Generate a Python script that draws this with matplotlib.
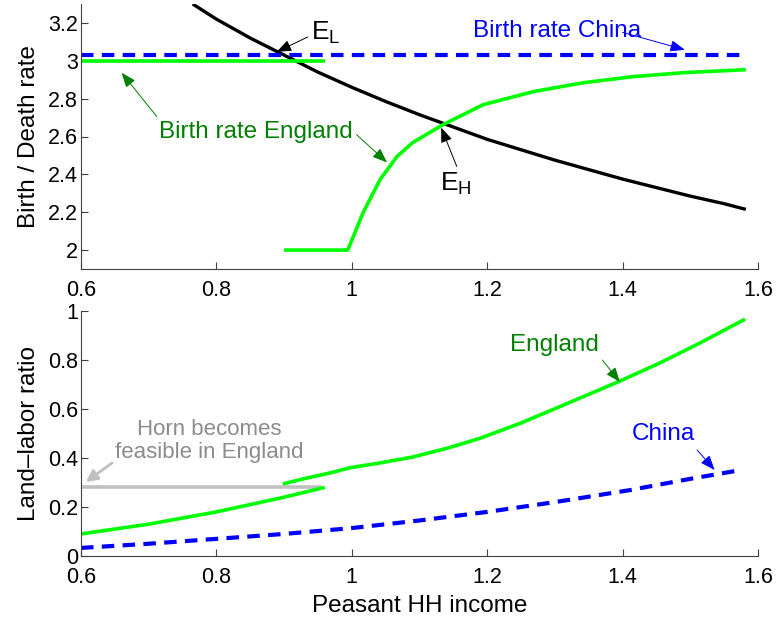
import matplotlib
matplotlib.use("Agg")
import matplotlib.pyplot as plt

plt.rcParams["font.family"] = ["Liberation Sans", "DejaVu Sans"]

# top panel: birth / death rates
death_x = [0.765, 0.8, 0.85, 0.9, 0.95, 1.0, 1.05, 1.1, 1.15, 1.2, 1.25, 1.3,
           1.35, 1.4, 1.45, 1.5, 1.55, 1.582]
death_y = [3.30, 3.22, 3.12, 3.03, 2.94, 2.86, 2.785, 2.715, 2.65, 2.585, 2.53,
           2.475, 2.425, 2.375, 2.33, 2.285, 2.245, 2.215]

china_birth_x = [0.6, 1.575]
china_birth_y = [3.03, 3.03]

eng_birth_low_x = [0.6, 0.96]
eng_birth_low_y = [3.0, 3.0]

eng_birth_x = [0.9, 0.994, 1.017, 1.042, 1.067, 1.09, 1.135, 1.194, 1.268,
               1.342, 1.415, 1.489, 1.582]
eng_birth_y = [2.0, 2.0, 2.2, 2.374, 2.495, 2.568, 2.663, 2.768, 2.837,
               2.884, 2.916, 2.937, 2.953]

# bottom panel: land-labor ratio
eng_ll_low_x = [0.6, 0.7, 0.8, 0.9, 0.96]
eng_ll_low_y = [0.09, 0.13, 0.18, 0.24, 0.28]

eng_ll_x = [0.898, 0.93, 0.968, 0.997, 1.042, 1.09, 1.141, 1.189, 1.25, 1.3075,
            1.396, 1.455, 1.514, 1.581]
eng_ll_y = [0.294, 0.316, 0.339, 0.360, 0.38, 0.404, 0.44, 0.48, 0.543, 0.61,
            0.714, 0.788, 0.869, 0.967]

china_ll_x = [0.6, 0.7, 0.8, 0.9, 1.0, 1.1, 1.2, 1.3, 1.411, 1.5, 1.575]
china_ll_y = [0.033, 0.05, 0.07, 0.09, 0.114, 0.145, 0.18, 0.22, 0.269, 0.315, 0.351]

horn_x = [0.6, 0.955]
horn_y = [0.28, 0.28]

xticks = [0.6, 0.8, 1.0, 1.2, 1.4, 1.6]
xticklabels = ["0.6", "0.8", "1", "1.2", "1.4", "1.6"]
top_yticks = [2, 2.2, 2.4, 2.6, 2.8, 3, 3.2]
top_yticklabels = ["2", "2.2", "2.4", "2.6", "2.8", "3", "3.2"]
bot_yticks = [0, 0.2, 0.4, 0.6, 0.8, 1]
bot_yticklabels = ["0", "0.2", "0.4", "0.6", "0.8", "1"]

LIME = "#00ff00"
DKGREEN = "#008000"
BLUE = "#0000ff"
W, H = 777, 619
TXT = 17.5

fig = plt.figure(figsize=(W / 100, H / 100), dpi=100)
ax1 = fig.add_axes([81 / W, 1 - 269 / H, 677 / W, 265 / H])
ax2 = fig.add_axes([81 / W, 1 - 556 / H, 677 / W, 245 / H])


def style(ax):
    for s in ["top", "right"]:
        ax.spines[s].set_visible(False)
    for s in ["left", "bottom"]:
        ax.spines[s].set_color("#404040")
        ax.spines[s].set_linewidth(0.8)
    ax.tick_params(direction="in", length=5, width=0.8, color="#404040",
                   labelsize=15.5)
    ax.tick_params(axis="y", pad=2)
    ax.tick_params(axis="x", pad=8)
    ax.set_xlim(0.6, 1.6)
    ax.set_xticks(xticks)
    ax.set_xticklabels(xticklabels)


style(ax1)
ax1.set_ylim(1.9, 3.3)
ax1.set_yticks(top_yticks)
ax1.set_yticklabels(top_yticklabels)
ax1.set_ylabel("Birth / Death rate", fontsize=TXT, labelpad=6)

ax1.plot(death_x, death_y, color="black", lw=2.4, solid_capstyle="butt")
ax1.plot(china_birth_x, china_birth_y, color=BLUE, lw=3, dashes=(3, 2),
         dash_capstyle="butt")
ax1.plot(eng_birth_low_x, eng_birth_low_y, color=LIME, lw=2.6, solid_capstyle="butt")
ax1.plot(eng_birth_x, eng_birth_y, color=LIME, lw=2.6, solid_capstyle="butt")

thin = dict(arrowstyle="-|>,head_length=0.9,head_width=0.35", lw=0.7,
            shrinkA=0, shrinkB=0)

ax1.text(1.303, 3.158, "Birth rate China", color=BLUE, fontsize=TXT,
         ha="center", va="center")
ax1.annotate("", xy=(1.492, 3.058), xytext=(1.40, 3.15),
             arrowprops=dict(thin, color=BLUE))

ax1.text(0.858, 2.626, "Birth rate England", color=DKGREEN, fontsize=TXT,
         ha="center", va="center")
ax1.annotate("", xy=(0.66, 2.937), xytext=(0.712, 2.705),
             arrowprops=dict(thin, color=DKGREEN))
ax1.annotate("", xy=(1.052, 2.463), xytext=(1.007, 2.61),
             arrowprops=dict(thin, color=DKGREEN))

ax1.text(0.94, 3.15, r"E$_\mathregular{L}$", fontsize=19, ha="left", va="center")
ax1.annotate("", xy=(0.889, 3.047), xytext=(0.935, 3.126),
             arrowprops=dict(thin, color="black"))
ax1.text(1.131, 2.35, r"E$_\mathregular{H}$", fontsize=19, ha="left", va="center")
ax1.annotate("", xy=(1.132, 2.647), xytext=(1.155, 2.442),
             arrowprops=dict(thin, color="black"))

style(ax2)
ax2.set_ylim(0, 1)
ax2.set_yticks(bot_yticks)
ax2.set_yticklabels(bot_yticklabels)
ax2.set_ylabel("Land\u2013labor ratio", fontsize=TXT, labelpad=6)
ax2.set_xlabel("Peasant HH income", fontsize=TXT, labelpad=5)

ax2.plot(horn_x, horn_y, color="#c0c0c0", lw=2.6, solid_capstyle="butt")
ax2.plot(eng_ll_low_x, eng_ll_low_y, color=LIME, lw=2.6, solid_capstyle="butt")
ax2.plot(eng_ll_x, eng_ll_y, color=LIME, lw=2.6, solid_capstyle="butt")
ax2.plot(china_ll_x, china_ll_y, color=BLUE, lw=3, dashes=(3, 2),
         dash_capstyle="butt")

ax2.text(1.300, 0.861, "England", color=DKGREEN, fontsize=TXT,
         ha="center", va="center")
ax2.annotate("", xy=(1.396, 0.71), xytext=(1.37, 0.80),
             arrowprops=dict(thin, color=DKGREEN))
ax2.text(1.46, 0.498, "China", color=BLUE, fontsize=TXT, ha="center", va="center")
ax2.annotate("", xy=(1.536, 0.351), xytext=(1.51, 0.433),
             arrowprops=dict(thin, color=BLUE))
ax2.text(0.789, 0.47, "Horn becomes\nfeasible in England", color="#8c8c8c",
         fontsize=16, ha="center", va="center", linespacing=1.15)
ax2.annotate("", xy=(0.607, 0.302), xytext=(0.646, 0.38),
             arrowprops=dict(arrowstyle="-|>,head_length=0.7,head_width=0.35",
                             lw=2, color="#c0c0c0", shrinkA=0, shrinkB=0))

fig.savefig("out.png", dpi=100)
